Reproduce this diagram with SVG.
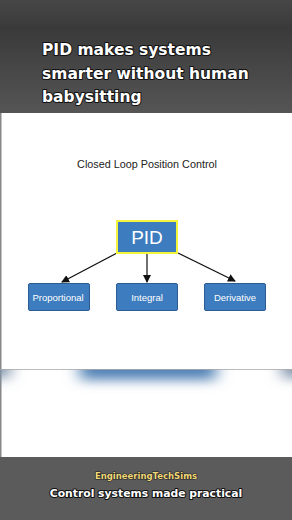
<svg xmlns="http://www.w3.org/2000/svg" width="292" height="520" viewBox="0 0 292 520">
<defs>
<linearGradient id="topg" x1="0" y1="0" x2="0" y2="1">
<stop offset="0" stop-color="#474747"/>
<stop offset="0.25" stop-color="#3a3a3a"/>
<stop offset="1" stop-color="#555555"/>
</linearGradient>
<filter id="blur" x="-0.5" y="-1" width="2" height="3"><feGaussianBlur stdDeviation="8 6"/></filter>
<clipPath id="bandclip"><rect x="0" y="369" width="292" height="40"/></clipPath>
<marker id="ah" markerWidth="8" markerHeight="8" refX="7" refY="4" orient="auto" markerUnits="userSpaceOnUse">
<path d="M0,0 L8,4 L0,8 z" fill="#111"/>
</marker>
<style>
.cap{font-family:"DejaVu Sans",sans-serif;font-weight:bold;fill:#fff;stroke:#111;stroke-width:2;paint-order:stroke;stroke-linejoin:round}
.box{fill:#3d7cbe;stroke:#2b5d93;stroke-width:1}
.lbl{font-family:"Liberation Sans",Arial,sans-serif;fill:#fff;font-size:9.5px;text-anchor:middle}
.conn{stroke:#111;stroke-width:1.2;fill:none;marker-end:url(#ah)}
</style>
</defs>
<rect x="0" y="0" width="292" height="113" fill="url(#topg)"/>
<rect x="0" y="113" width="292" height="344" fill="#ffffff"/>
<rect x="0" y="113" width="1.5" height="344" fill="#888"/>
<rect x="0" y="457" width="292" height="63" fill="#5b5b5b"/>
<g id="caption-top">
<text class="cap" x="42" y="55" font-size="15.5">PID makes systems</text>
<text class="cap" x="42" y="79" font-size="15.5">smarter without human</text>
<text class="cap" x="42" y="102" font-size="15.5">babysitting</text>
</g>
<g id="title">
<text x="147" y="168" font-family="Liberation Sans, Arial, sans-serif" font-size="10.8" fill="#222" text-anchor="middle">Closed Loop Position Control</text>
</g>
<g id="connectors">
<line class="conn" x1="117" y1="253" x2="62" y2="282"/>
<line class="conn" x1="147" y1="253" x2="147" y2="282"/>
<line class="conn" x1="178" y1="253" x2="235" y2="281"/>
</g>
<g id="pid">
<rect x="117" y="221" width="60" height="32" fill="#3d7cbe" stroke="#f4f43a" stroke-width="2"/>
<text x="147" y="244" font-family="Liberation Sans, Arial, sans-serif" font-size="19" fill="#fff" text-anchor="middle">PID</text>
</g>
<g id="proportional">
<rect class="box" x="28.5" y="283.5" width="61" height="27" rx="1.5"/>
<text class="lbl" x="58" y="300.5">Proportional</text>
</g>
<g id="integral">
<rect class="box" x="116.5" y="283.5" width="61" height="27" rx="1.5"/>
<text class="lbl" x="147" y="300.5">Integral</text>
</g>
<g id="derivative">
<rect class="box" x="204.5" y="283.5" width="61" height="27" rx="1.5"/>
<text class="lbl" x="235" y="300.5">Derivative</text>
</g>
<g id="blurband" clip-path="url(#bandclip)">
<g filter="url(#blur)">
<rect x="80" y="340" width="136" height="40" fill="#5282b6"/>
<rect x="-25" y="340" width="35" height="38" fill="#7f93aa"/>
<rect x="282" y="340" width="35" height="38" fill="#7f93aa"/>
</g>
<rect x="0" y="369" width="292" height="0.8" fill="#aaaaaa"/>
</g>
<g id="caption-bottom">
<text x="146" y="479" font-family="DejaVu Sans, sans-serif" font-weight="bold" font-size="8.5" fill="#f0d878" stroke="#222" stroke-width="1.2" paint-order="stroke" text-anchor="middle">EngineeringTechSims</text>
<text class="cap" x="146" y="497" font-size="10.8" text-anchor="middle">Control systems made practical</text>
</g>
</svg>
